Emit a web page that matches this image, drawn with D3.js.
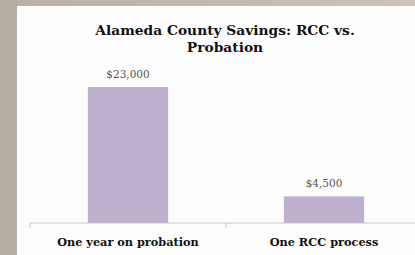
<!DOCTYPE html>
<html>
<head>
<meta charset="utf-8">
<script src="https://cdn.jsdelivr.net/npm/d3@7"></script>
<style>
  body { margin: 0; background: #c6bbb3; }
  svg { display: block; }
</style>
</head>
<body>
<svg width="415" height="255"></svg>
<script>
const categories = ["One year on probation", "One RCC process"];
const values = [23000, 4500];
const valueLabels = ["$23,000", "$4,500"];
const titleLines = ["Alameda County Savings: RCC vs.", "Probation"];

const svg = d3.select("svg");

// backdrop: slide-like frame
const defs = svg.append("defs");
const grad = defs.append("linearGradient").attr("id", "bg").attr("x1", 0).attr("x2", 1);
grad.append("stop").attr("offset", "0%").attr("stop-color", "#b9b0a8");
grad.append("stop").attr("offset", "100%").attr("stop-color", "#cdc2ba");
svg.append("rect").attr("width", 415).attr("height", 255).attr("fill", "url(#bg)");
svg.append("rect").attr("x", 0).attr("y", 0).attr("width", 17).attr("height", 255).attr("fill", "#b6ada5");
svg.append("rect").attr("x", 17).attr("y", 6).attr("width", 400).attr("height", 250).attr("fill", "#fefdfd");

const margin = {top: 87, right: 0, bottom: 32, left: 30};
const width = 422 - margin.left;
const height = 223 - margin.top;
const g = svg.append("g").attr("transform", "translate(" + margin.left + "," + margin.top + ")");

const x = d3.scaleBand()
            .domain(categories)
            .range([0, width])
            .paddingInner(0.59)
            .paddingOuter(0.295);

const y = d3.scaleLinear()
            .domain([0, 23000])
            .range([height, 0]);

const serif = "DejaVu Serif, serif";

g.selectAll(".bar")
 .data(values)
 .enter().append("rect")
 .attr("class", "bar")
 .attr("x", (d, i) => x(categories[i]))
 .attr("y", d => y(d))
 .attr("width", x.bandwidth())
 .attr("height", d => height - y(d))
 .attr("fill", "#bfb0d0");

g.selectAll(".val")
 .data(values)
 .enter().append("text")
 .attr("class", "val")
 .attr("x", (d, i) => x(categories[i]) + x.bandwidth() / 2)
 .attr("y", d => y(d) - 9)
 .attr("text-anchor", "middle")
 .attr("font-family", serif)
 .attr("font-size", 10.5)
 .attr("fill", "#555")
 .text((d, i) => valueLabels[i]);

// x axis with category boundaries as ticks
const axis = g.append("g").attr("transform", "translate(0," + height + ")");
axis.append("line").attr("x1", 0).attr("x2", width).attr("stroke", "#c8c8c8").attr("stroke-width", 1);
axis.selectAll(".tick")
    .data(d3.range(categories.length + 1))
    .enter().append("line")
    .attr("x1", i => i * x.step())
    .attr("x2", i => i * x.step())
    .attr("y1", 0).attr("y2", 5)
    .attr("stroke", "#c8c8c8");
axis.selectAll(".cat")
    .data(categories)
    .enter().append("text")
    .attr("x", d => x(d) + x.bandwidth() / 2)
    .attr("y", 23)
    .attr("text-anchor", "middle")
    .attr("font-family", serif)
    .attr("font-weight", "bold")
    .attr("font-size", 11.3)
    .attr("fill", "#111")
    .text(d => d);

svg.selectAll(".title")
   .data(titleLines)
   .enter().append("text")
   .attr("class", "title")
   .attr("x", 225)
   .attr("y", (d, i) => 35 + i * 17)
   .attr("text-anchor", "middle")
   .attr("font-family", serif)
   .attr("font-weight", "bold")
   .attr("font-size", 13.8)
   .attr("fill", "#111")
   .text(d => d);
</script>
</body>
</html>
